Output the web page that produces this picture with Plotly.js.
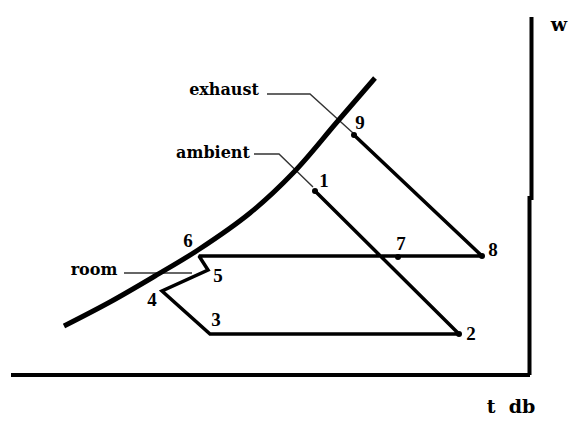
<!DOCTYPE html>
<html>
<head>
<meta charset="utf-8">
<script src="https://cdn.plot.ly/plotly-3.0.1.min.js"></script>
<style>html,body{margin:0;padding:0;background:#fff;}#chart{width:570px;height:422px;}</style>
</head>
<body>
<div id="chart"></div>
<script>
// Schematic psychrometric chart: t = dry-bulb (schematic units), w = humidity ratio (schematic units)
const satT = [64, 110, 155, 198, 250, 294, 337, 375];
const satW = [49, 73, 99, 125, 162, 203, 253, 297];

// process path 1-2-3-4-5-6-8-9
const pathT = [315, 459, 210, 162, 208, 199, 482, 354];
const pathW = [184, 41, 41, 84, 105, 119, 119, 240];

// end-point dots (1, 2, 7, 8, 9)
const dotT = [315, 459, 398, 482, 354];
const dotW = [184, 41, 118, 119, 240];

// state-number labels
const numText = ["1", "2", "3", "4", "5", "6", "7", "8", "9"];
const numT = [324, 471, 216, 152, 218, 188, 401, 493, 360];
const numW = [193, 40, 54, 74, 98, 133, 130, 124, 251];

// named-point labels and leaders
const nameText = ["exhaust", "ambient", "room"];
const nameT = [224, 213, 94];
const nameW = [284, 221, 104];
const exhaustLeaderT = [267, 310, 353];
const exhaustLeaderW = [281, 281, 242];
const ambientLeaderT = [254, 279, 313];
const ambientLeaderW = [221, 221, 188];
const roomLeaderT = [124, 192];
const roomLeaderW = [102, 102];

// axes
const xAxisT = [11, 530];
const xAxisW = [0, 0];
const yAxisT = [531.5, 531.5, 529.5, 529.5];
const yAxisW = [358, 177, 177, 0];
const axisText = ["w", "t  db"];
const axisTextT = [559, 511];
const axisTextW = [349, -33];

const line = (x, y, w, c) => ({x, y, type: 'scatter', mode: 'lines', line: {color: c || '#000', width: w}, hoverinfo: 'skip', showlegend: false});

const traces = [
  line(xAxisT, xAxisW, 4),
  line(yAxisT, yAxisW, 4),
  line(exhaustLeaderT, exhaustLeaderW, 1.4, '#333'),
  line(ambientLeaderT, ambientLeaderW, 1.4, '#333'),
  line(roomLeaderT, roomLeaderW, 1.4, '#333'),
  Object.assign(line(satT, satW, 5), {line: {color: '#000', width: 5, shape: 'spline', smoothing: 1}}),
  line(pathT, pathW, 3.5),
  {x: dotT, y: dotW, type: 'scatter', mode: 'markers', marker: {color: '#000', size: 6}, hoverinfo: 'skip', showlegend: false},
  {x: numT, y: numW, text: numText, type: 'scatter', mode: 'text', textfont: {family: 'Liberation Serif', size: 19, color: '#000', weight: 'bold'}, hoverinfo: 'skip', showlegend: false},
  {x: nameT, y: nameW, text: nameText, type: 'scatter', mode: 'text', textfont: {family: 'DejaVu Serif', size: 16, color: '#000', weight: 'bold'}, hoverinfo: 'skip', showlegend: false},
  {x: axisTextT, y: axisTextW, text: axisText, type: 'scatter', mode: 'text', textfont: {family: 'DejaVu Serif', size: 19, color: '#000', weight: 'bold'}, hoverinfo: 'skip', showlegend: false}
];

const layout = {
  width: 570, height: 422,
  margin: {l: 0, r: 0, t: 0, b: 0},
  paper_bgcolor: '#fff', plot_bgcolor: '#fff',
  xaxis: {range: [0, 570], visible: false, fixedrange: true},
  yaxis: {range: [-47, 375], visible: false, fixedrange: true},
  showlegend: false
};

Plotly.newPlot('chart', traces, layout, {displayModeBar: false, staticPlot: true});
</script>
</body>
</html>
